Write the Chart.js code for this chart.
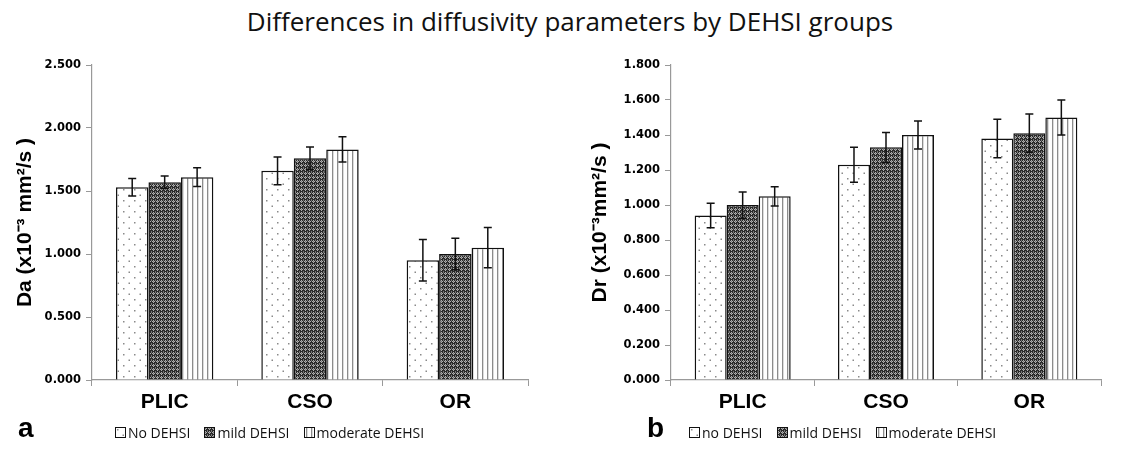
<!DOCTYPE html>
<html>
<head>
<meta charset="utf-8">
<script src="https://cdn.jsdelivr.net/npm/chart.js@4"></script>
<style>
    body { margin: 0; background: #fff; width: 1140px; height: 459px; position: relative; overflow: hidden; }
    #titulo { position: absolute; left: 0; top: 3px; width: 1140px; text-align: center;
              font: 26px "Open Sans", sans-serif; color: #111; }
    .letra { position: absolute; font: bold 28px "Liberation Sans", Arial, sans-serif; color: #000; }
    .legenda { position: absolute; top: 423px; display: flex; gap: 14px;
               font: 14px "Open Sans", sans-serif; color: #111; }
    .legenda span { display: flex; align-items: center; white-space: nowrap; }
    .legenda canvas { position: static; margin-right: 2px; }
    canvas { position: absolute; top: 0; }
</style>
</head>
<body>
<div id="titulo">Differences in diffusivity parameters by DEHSI groups</div>
<canvas id="chartDa" width="570" height="459" style="left:0"></canvas>
<canvas id="chartDr" width="570" height="459" style="left:570px"></canvas>
<div class="letra" style="left:18px; top:412px">a</div>
<div class="letra" style="left:647px; top:412px">b</div>
<div class="legenda" id="legendaDa" style="left:115px"></div>
<div class="legenda" id="legendaDr" style="left:689px"></div>

<script>
const categorias = ["PLIC", "CSO", "OR"];

// painel a - Da
const daNone = [1.53, 1.66, 0.95];
const daMild = [1.57, 1.76, 1.00];
const daModerate = [1.61, 1.83, 1.05];
const daNoneErr = [0.07, 0.11, 0.165];
const daMildErr = [0.05, 0.09, 0.125];
const daModerateErr = [0.075, 0.10, 0.16];
const daTicks = [0, 0.5, 1.0, 1.5, 2.0, 2.5];
const daLegend = ["No DEHSI", "mild DEHSI", "moderate DEHSI"];

// painel b - Dr
const drNone = [0.94, 1.23, 1.38];
const drMild = [1.00, 1.33, 1.41];
const drModerate = [1.05, 1.40, 1.50];
const drNoneErr = [0.07, 0.10, 0.11];
const drMildErr = [0.075, 0.085, 0.11];
const drModerateErr = [0.055, 0.08, 0.10];
const drTicks = [0, 0.2, 0.4, 0.6, 0.8, 1.0, 1.2, 1.4, 1.6, 1.8];
const drLegend = ["no DEHSI", "mild DEHSI", "moderate DEHSI"];

/* ===========================
   PADROES (hachuras)
=========================== */
function padrao(w, h, desenha) {
    const c = document.createElement("canvas");
    c.width = w; c.height = h;
    const ctx = c.getContext("2d");
    desenha(ctx);
    return ctx.createPattern(c, "repeat");
}

const padraoPontos = padrao(11, 11, ctx => {
    ctx.fillStyle = "#fff";
    ctx.fillRect(0, 0, 11, 11);
    ctx.fillStyle = "#8a8a8a";
    ctx.fillRect(2, 2, 1.5, 1.5);
    ctx.fillRect(7.5, 7.5, 1.5, 1.5);
});

const padraoXadrez = padrao(4, 4, ctx => {
    ctx.fillStyle = "#2a2a2a";
    ctx.fillRect(0, 0, 4, 4);
    ctx.fillStyle = "#b0b0b0";
    ctx.fillRect(1, 0, 1, 1);
    ctx.fillRect(0, 1, 1, 1);
    ctx.fillRect(2, 1, 1, 1);
    ctx.fillRect(1, 2, 1, 1);
    ctx.fillStyle = "#777";
    ctx.fillRect(3, 3, 1, 1);
    ctx.fillRect(1, 1, 1, 1);
    ctx.fillRect(3, 0, 1, 1);
});

const padraoListras = padrao(5, 4, ctx => {
    ctx.fillStyle = "#fff";
    ctx.fillRect(0, 0, 5, 4);
    ctx.fillStyle = "#8c8c8c";
    ctx.fillRect(2, 0, 1.3, 4);
});

const padroes = [padraoPontos, padraoXadrez, padraoListras];

/* ===========================
   BARRAS DE ERRO
=========================== */
const barrasErro = {
    id: "barrasErro",
    afterDatasetsDraw(chart) {
        const ctx = chart.ctx;
        const y = chart.scales.y;
        ctx.save();
        ctx.strokeStyle = "#111";
        ctx.lineWidth = 1.5;
        chart.data.datasets.forEach((ds, i) => {
            chart.getDatasetMeta(i).data.forEach((bar, j) => {
                const v = ds.data[j], e = ds.erro[j];
                const yTop = y.getPixelForValue(v + e);
                const yBot = y.getPixelForValue(v - e);
                ctx.beginPath();
                ctx.moveTo(bar.x, yTop); ctx.lineTo(bar.x, yBot);
                ctx.moveTo(bar.x - 4, yTop); ctx.lineTo(bar.x + 4, yTop);
                ctx.moveTo(bar.x - 4, yBot); ctx.lineTo(bar.x + 4, yBot);
                ctx.stroke();
            });
        });
        ctx.restore();
    }
};

/* ===========================
   LEGENDA (html)
=========================== */
function montarLegenda(id, chart) {
    const div = document.getElementById(id);
    chart.data.datasets.forEach(ds => {
        const item = document.createElement("span");
        const box = document.createElement("canvas");
        box.width = 11; box.height = 11;
        const c = box.getContext("2d");
        c.fillStyle = ds.backgroundColor;
        c.fillRect(0, 0, 11, 11);
        c.strokeStyle = "#111";
        c.lineWidth = 1;
        c.strokeRect(0.5, 0.5, 10, 10);
        item.appendChild(box);
        item.appendChild(document.createTextNode(ds.label));
        div.appendChild(item);
    });
}

/* ===========================
   GRAFICO
=========================== */
function criarGrafico(id, cfg) {
    const datasets = cfg.series.map((s, i) => ({
        label: cfg.legenda[i],
        data: s,
        erro: cfg.erros[i],
        backgroundColor: padroes[i],
        borderColor: "#111",
        borderWidth: 1.5,
        categoryPercentage: 0.67,
        barPercentage: 1.0
    }));

    return new Chart(document.getElementById(id), {
        type: "bar",
        data: { labels: categorias, datasets },
        options: {
            responsive: false,
            animation: false,
            layout: { padding: { top: cfg.topo, right: cfg.direita, left: 0, bottom: 34 } },
            plugins: {
                tooltip: { enabled: false },
                legend: { display: false }
            },
            scales: {
                x: {
                    afterFit: s => { s.height = 45; },
                    grid: { drawOnChartArea: false, color: "#999", tickLength: 6, offset: true },
                    border: { color: "#999", width: 1.2 },
                    ticks: {
                        color: "#000",
                        padding: 4,
                        font: { family: "'Liberation Sans Narrow', 'Liberation Sans', sans-serif", size: 21, weight: "bold" }
                    }
                },
                y: {
                    min: 0,
                    max: cfg.ticks[cfg.ticks.length - 1],
                    afterFit: s => { s.width = cfg.esquerda; },
                    afterBuildTicks: s => { s.ticks = cfg.ticks.map(v => ({ value: v })); },
                    grid: { drawOnChartArea: false, color: "#999", tickLength: 6 },
                    border: { color: "#999", width: 1.2 },
                    ticks: {
                        color: "#000",
                        padding: 5,
                        font: { family: "'DejaVu Sans', sans-serif", size: 11.5, weight: "bold" },
                        callback: v => Number(v).toFixed(3)
                    },
                    title: {
                        display: true,
                        text: cfg.tituloY,
                        color: "#000",
                        padding: { top: cfg.tituloPad, bottom: 0 },
                        font: { family: "'Liberation Sans', Arial, sans-serif", size: 21, weight: "bold" }
                    }
                }
            }
        },
        plugins: [barrasErro]
    });
}

const graficoDa = criarGrafico("chartDa", {
    series: [daNone, daMild, daModerate],
    erros: [daNoneErr, daMildErr, daModerateErr],
    legenda: daLegend,
    ticks: daTicks,
    tituloY: "Da (x10⁻³ mm²/s )",
    tituloPad: 13,
    topo: 65,
    esquerda: 92,
    direita: 42
});

const graficoDr = criarGrafico("chartDr", {
    series: [drNone, drMild, drModerate],
    erros: [drNoneErr, drMildErr, drModerateErr],
    legenda: drLegend,
    ticks: drTicks,
    tituloY: "Dr (x10⁻³mm²/s )",
    tituloPad: 18,
    topo: 65,
    esquerda: 101,
    direita: 39
});

montarLegenda("legendaDa", graficoDa);
montarLegenda("legendaDr", graficoDr);
</script>
</body>
</html>
